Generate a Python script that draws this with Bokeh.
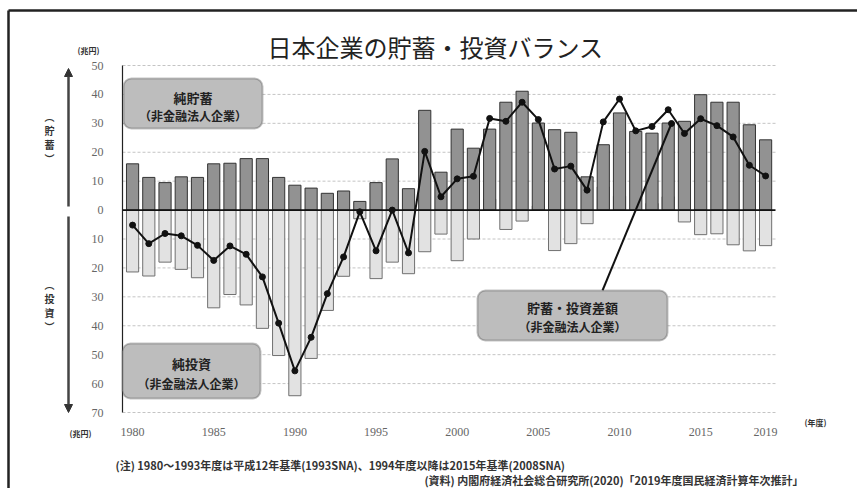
from bokeh.plotting import figure
from bokeh.models import (Range1d, FixedTicker, Label, BoxAnnotation, Arrow,
                          NormalHead, ColumnDataSource, LinearAxis)
from bokeh.embed import file_html
from bokeh.resources import INLINE

# ---------------- data (兆円, 年度) ----------------
years = list(range(1980, 2020))
savings = [16.0, 11.3, 9.5, 11.5, 11.3, 16.0, 16.2, 17.8, 17.8, 11.3,
           8.6, 7.6, 5.8, 6.6, 3.0, 9.5, 17.7, 7.4, 34.5, 13.1,
           28.0, 21.4, 28.0, 37.3, 41.1, 30.1, 27.8, 26.9, 11.5, 22.6,
           33.6, 27.2, 26.6, 30.1, 30.7, 39.9, 37.3, 37.3, 29.5, 24.3]
investment = [-21.4, -22.8, -18.0, -20.5, -23.4, -33.8, -29.2, -32.8, -40.9, -50.3,
              -64.2, -51.3, -34.7, -22.9, -3.0, -23.7, -18.0, -22.0, -14.4, -8.3,
              -17.5, -10.0, 3.8, -6.7, -3.8, 1.4, -14.0, -11.6, -4.7, 8.0,
              4.8, 0.2, 2.3, 4.6, -4.1, -8.5, -8.2, -12.0, -14.1, -12.3]
balance = [-5.2, -11.6, -8.1, -8.9, -12.2, -17.4, -12.4, -15.3, -23.1, -39.1,
           -55.6, -44.0, -28.9, -16.2, -0.6, -14.1, 0.0, -14.8, 20.3, 4.6,
           10.8, 11.7, 31.7, 30.7, 37.3, 31.3, 14.2, 15.2, 6.9, 30.5,
           38.4, 27.4, 28.9, 34.7, 26.5, 31.6, 29.2, 25.3, 15.5, 11.8]
y_ticks = [-70, -60, -50, -40, -30, -20, -10, 0, 10, 20, 30, 40, 50]
x_ticks = [1980, 1985, 1990, 1995, 2000, 2005, 2010, 2015, 2019]
x_tick_labels = ["1980", "1985", "1990", "1995", "2000", "2005", "2010", "2015", "2019"]

title_text = "日本企業の貯蓄・投資バランス"
note_text = "(注) 1980～1993年度は平成12年基準(1993SNA)、1994年度以降は2015年基準(2008SNA)"
source_text = "(資料) 内閣府経済社会総合研究所(2020)「2019年度国民経済計算年次推計」"

# ---------------- layout ----------------
W, H = 857, 488
# pixel box of the chart area and its data extent
FL, FR, FT, FB = 122, 775, 65, 412
X0, X1 = 1979.38, 2019.61
Y0, Y1 = -70, 50


def dx(px):
    return X0 + (px - FL) * (X1 - X0) / (FR - FL)


def dy(py):
    return Y1 - (py - FT) * (Y1 - Y0) / (FB - FT)


JP = "Noto Sans CJK JP"
SERIF = "Liberation Serif"

p = figure(width=W, height=H, x_range=Range1d(dx(0), dx(W)), y_range=Range1d(dy(H), dy(0)),
           output_backend="svg", toolbar_location=None, title=None,
           x_axis_type=None, y_axis_type=None,
           min_border_left=0, min_border_right=0, min_border_top=0, min_border_bottom=0)
p.outline_line_color = None
p.background_fill_color = "white"
p.border_fill_color = "white"
p.xgrid.visible = False
p.ygrid.visible = False

# axes placed at the chart-area edges
yax = LinearAxis(fixed_location=X0, ticker=FixedTicker(ticks=y_ticks), bounds=(Y0, Y1))
yax.major_label_overrides = {v: str(abs(v)) for v in y_ticks}
yax.major_tick_line_color = None
yax.minor_tick_line_color = None
yax.axis_line_color = "#222"
yax.axis_line_width = 1.2
yax.major_label_standoff = 13
yax.major_label_text_font = SERIF
yax.major_label_text_font_size = "12px"
yax.major_label_text_color = "#666"
p.add_layout(yax, "left")

xax = LinearAxis(fixed_location=Y0, ticker=FixedTicker(ticks=x_ticks))
xax.major_label_overrides = {t: l for t, l in zip(x_ticks, x_tick_labels)}
xax.major_tick_line_color = None
xax.minor_tick_line_color = None
xax.axis_line_color = None
xax.major_label_standoff = 9
xax.major_label_text_font = SERIF
xax.major_label_text_font_size = "12px"
xax.major_label_text_color = "#666"
p.add_layout(xax, "below")

# horizontal grid lines at the y ticks (dashed), zero line solid
grid_y = [t for t in y_ticks if t != 0]
p.segment(x0=[X0] * len(grid_y), x1=[X1] * len(grid_y), y0=grid_y, y1=grid_y,
          line_color="#c4c4c4", line_width=1, line_dash="3 2")

src = ColumnDataSource(dict(year=years, sav=savings, inv=investment, bal=balance))

# bars
p.vbar(x="year", top="inv", bottom=0, width=0.75, source=src,
       fill_color="#e2e2e2", line_color="#707070", line_width=1)
p.vbar(x="year", top="sav", bottom=0, width=0.75, source=src,
       fill_color="#929292", line_color="#333333", line_width=1)

p.segment(x0=[X0], x1=[X1], y0=[0], y1=[0], line_color="#111", line_width=1.6)

# balance line
p.line(x="year", y="bal", source=src, line_color="#111", line_width=2)
p.scatter(x="year", y="bal", source=src, size=6, fill_color="#111", line_color="#111")

# title
p.add_layout(Label(x=dx(435), y=dy(46), text=title_text, text_align="center",
                   text_baseline="alphabetic", text_font=JP, text_font_size="24px",
                   text_color="#222"))

# units
p.add_layout(Label(x=dx(88), y=dy(50), text="(兆円)", text_align="center",
                   text_baseline="alphabetic", text_font=JP, text_font_size="8px",
                   text_font_style="bold", text_color="#333"))
p.add_layout(Label(x=dx(80), y=dy(433), text="(兆円)", text_align="center",
                   text_baseline="alphabetic", text_font=JP, text_font_size="8px",
                   text_font_style="bold", text_color="#333"))
p.add_layout(Label(x=dx(815), y=dy(422), text="(年度)", text_align="center",
                   text_baseline="alphabetic", text_font=JP, text_font_size="8px",
                   text_font_style="bold", text_color="#333"))

# left arrows
p.add_layout(Arrow(end=NormalHead(size=8, fill_color="#333", line_color="#333"),
                   x_start=dx(68), y_start=dy(206), x_end=dx(68), y_end=dy(68),
                   line_color="#444", line_width=2.5))
p.add_layout(Arrow(end=NormalHead(size=8, fill_color="#333", line_color="#333"),
                   x_start=dx(68), y_start=dy(216), x_end=dx(68), y_end=dy(412),
                   line_color="#444", line_width=2.5))
p.add_layout(Label(x=dx(49), y=dy(137), text="︵\n貯\n蓄\n︶", text_align="center",
                   text_baseline="middle", text_font=JP, text_font_size="10px",
                   text_line_height=0.95, text_font_style="bold", text_color="#333"))
p.add_layout(Label(x=dx(49), y=dy(305), text="︵\n投\n資\n︶", text_align="center",
                   text_baseline="middle", text_font=JP, text_font_size="10px",
                   text_line_height=0.95, text_font_style="bold", text_color="#333"))


# callout boxes
def callout(l, r, t, b, line1, line2, y1, y2):
    p.add_layout(BoxAnnotation(left=dx(l), right=dx(r), top=dy(t), bottom=dy(b),
                               fill_color="#bdbdbd", fill_alpha=1, line_color="#3c3c3c",
                               line_width=2, border_radius=8, level="overlay"))
    cx = dx((l + r) / 2)
    p.add_layout(Label(x=cx, y=dy(y1), text=line1, text_align="center",
                       text_baseline="middle", text_font=JP, text_font_size="13px",
                       text_font_style="bold", text_color="#222", level="overlay"))
    p.add_layout(Label(x=cx, y=dy(y2), text=line2, text_align="center",
                       text_baseline="middle", text_font=JP, text_font_size="12px",
                       text_font_style="bold", text_color="#222", level="overlay"))


callout(123, 262, 78, 128, "純貯蓄", "（非金融法人企業）", 97, 115)
callout(122, 260, 343, 398, "純投資", "（非金融法人企業）", 363, 383)

# leader line for the balance callout
p.segment(x0=[dx(602)], y0=[dy(290)], x1=[dx(671)], y1=[dy(123)],
          line_color="#111", line_width=2)
p.scatter(x=[dx(671)], y=[dy(123)], size=6, fill_color="#111", line_color="#111")
callout(477, 667, 290, 340, "貯蓄・投資差額", "（非金融法人企業）", 307, 326)

# notes
p.add_layout(Label(x=dx(115), y=dy(464), text=note_text, text_align="left",
                   text_baseline="alphabetic", text_font=JP, text_font_size="11px",
                   text_font_style="bold", text_color="#333"))
p.add_layout(Label(x=dx(803), y=dy(479), text=source_text, text_align="right",
                   text_baseline="alphabetic", text_font=JP, text_font_size="11px",
                   text_font_style="bold", text_color="#333"))

# scan frame (top and left border)
p.segment(x0=[dx(8), dx(8)], y0=[dy(10), dy(10)], x1=[dx(W + 5), dx(8)], y1=[dy(10), dy(H + 5)],
          line_color="#222", line_width=2.5)

open("out.html", "w").write(file_html(p, INLINE))
